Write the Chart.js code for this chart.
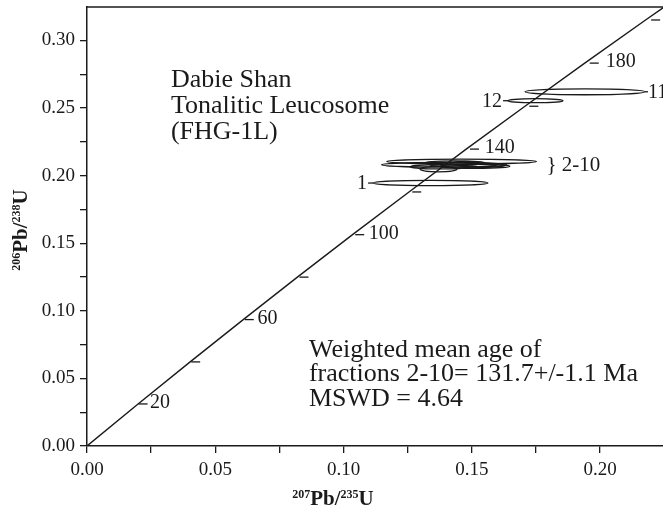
<!DOCTYPE html>
<html>
<head>
<meta charset="utf-8">
<script src="https://cdn.jsdelivr.net/npm/chart.js@4.4.1/dist/chart.umd.min.js"></script>
<style>
  html, body { margin: 0; padding: 0; background: #fff; }
</style>
</head>
<body>
<canvas id="concordia" width="663" height="510"></canvas>
<script>
// Concordia curve (age in Ma and its ratios)
const concAges = [0, 20, 40, 60, 80, 100, 120, 140, 160, 180, 200, 210];
const concX = [0, 0.0199, 0.0402, 0.0609, 0.0820, 0.1035, 0.1255, 0.1478, 0.1707, 0.1940, 0.2177, 0.2298];
const concY = [0, 0.0311, 0.0622, 0.0935, 0.1249, 0.1563, 0.1879, 0.2196, 0.2513, 0.2832, 0.3151, 0.3311];

// age marks along the curve
const ageMarks = [20, 40, 60, 80, 100, 120, 140, 160, 180, 200];
const ageLabels = ['20', '', '60', '', '100', '', '140', '', '180', ''];

// zircon fractions: error ellipse centres and half widths
const fracLabels = ['1', '', '', '', '', '', '', '', '', '', '11', '12'];
const ellX  = [0.1339, 0.1460, 0.1392, 0.1370, 0.1467, 0.1512, 0.1376, 0.1473, 0.1434, 0.1541, 0.1941, 0.1748];
const ellY  = [0.1945, 0.2104, 0.2080, 0.2048, 0.2080, 0.2069, 0.2065, 0.2091, 0.2094, 0.2076, 0.2620, 0.2554];
const ellRx = [0.0224, 0.0292, 0.0244, 0.0072, 0.0131, 0.0136, 0.0117, 0.0058, 0.0117, 0.0088, 0.0234, 0.0107];
const ellRy = [0.0019, 0.0018, 0.0018, 0.0020, 0.0016, 0.0015, 0.0016, 0.0014, 0.0015, 0.0015, 0.0022, 0.0015];

// axis ticks
const xTicks = [0, 0.025, 0.05, 0.075, 0.10, 0.125, 0.15, 0.175, 0.20];
const yTicks = [0, 0.025, 0.05, 0.075, 0.10, 0.125, 0.15, 0.175, 0.20, 0.225, 0.25, 0.275, 0.30];

const serif = '"Liberation Serif", "Times New Roman", serif';
const ink = '#1a1a1a';

function tickLabel(v) {
  const k = Math.round(v / 0.025);
  return k % 2 === 0 ? v.toFixed(2) : '';
}

function drawRich(ctx, parts, cx, cy) {
  let w = 0;
  parts.forEach(p => {
    ctx.font = p.sup ? 'bold 12px ' + serif : 'bold 21px ' + serif;
    p.w = ctx.measureText(p.t).width;
    w += p.w;
  });
  let x = cx - w / 2;
  ctx.textAlign = 'left';
  ctx.textBaseline = 'alphabetic';
  parts.forEach(p => {
    ctx.font = p.sup ? 'bold 12px ' + serif : 'bold 21px ' + serif;
    ctx.fillText(p.t, x, p.sup ? cy - 7 : cy);
    x += p.w;
  });
}

const decor = {
  id: 'decor',
  afterDatasetsDraw(chart) {
    const {ctx, chartArea: a, scales: {x, y}} = chart;
    ctx.save();
    ctx.strokeStyle = ink;
    ctx.fillStyle = ink;

    // frame top line
    ctx.lineWidth = 1.5;
    ctx.beginPath();
    ctx.moveTo(a.left, a.top);
    ctx.lineTo(a.right, a.top);
    ctx.stroke();

    // error ellipses
    ctx.save();
    ctx.beginPath();
    ctx.rect(a.left, a.top, a.right - a.left, a.bottom - a.top);
    ctx.clip();
    ctx.lineWidth = 1.3;
    for (let i = 0; i < ellX.length; i++) {
      const px = x.getPixelForValue(ellX[i]);
      const py = y.getPixelForValue(ellY[i]);
      const rx = x.getPixelForValue(ellX[i] + ellRx[i]) - px;
      const ry = py - y.getPixelForValue(ellY[i] + ellRy[i]);
      ctx.beginPath();
      ctx.ellipse(px, py, rx, ry, 0, 0, Math.PI * 2);
      ctx.stroke();
    }

    // age marks on the concordia
    ctx.lineWidth = 1.3;
    ctx.font = '20px ' + serif;
    ctx.textAlign = 'left';
    ctx.textBaseline = 'middle';
    ageMarks.forEach((age, i) => {
      const k = concAges.indexOf(age);
      const px = x.getPixelForValue(concX[k]);
      const py = y.getPixelForValue(concY[k]);
      const shift = (px - a.left) * 0.02;
      ctx.beginPath();
      ctx.moveTo(px + shift * 0.5, py);
      ctx.lineTo(px + shift * 0.5 + 9, py);
      ctx.stroke();
      if (ageLabels[i]) ctx.fillText(ageLabels[i], px + 11 + shift, py - 1);
    });

    // fraction labels
    const side = {'1': 'left', '12': 'left', '11': 'right'};
    fracLabels.forEach((lab, i) => {
      if (!lab) return;
      const py = y.getPixelForValue(ellY[i]);
      if (side[lab] === 'left') {
        const ex = x.getPixelForValue(ellX[i] - ellRx[i]);
        ctx.beginPath();
        ctx.moveTo(ex - 5, py);
        ctx.lineTo(ex, py);
        ctx.stroke();
        ctx.textAlign = 'right';
        ctx.fillText(lab, ex - 6, py + 1);
      } else {
        const ex = x.getPixelForValue(ellX[i] + ellRx[i]);
        ctx.beginPath();
        ctx.moveTo(ex, py);
        ctx.lineTo(ex + 3, py);
        ctx.stroke();
        ctx.textAlign = 'left';
        ctx.fillText(lab, ex + 3, py + 1);
      }
    });
    ctx.restore();

    // group bracket for fractions 2-10
    ctx.font = '21px ' + serif;
    ctx.textAlign = 'left';
    ctx.textBaseline = 'middle';
    ctx.fillText('} 2-10', x.getPixelForValue(0.1791), y.getPixelForValue(0.2072));

    // notes
    const notes = [
      ['Dabie Shan', 0.0327, 0.2707, 26],
      ['Tonalitic Leucosome', 0.0327, 0.2515, 26],
      ['(FHG-1L)', 0.0327, 0.2323, 26],
      ['Weighted mean age of', 0.0865, 0.0712, 26],
      ['fractions 2-10= 131.7+/-1.1 Ma', 0.0865, 0.0530, 26],
      ['MSWD = 4.64', 0.0865, 0.0347, 26]
    ];
    notes.forEach(n => {
      ctx.font = n[3] + 'px ' + serif;
      ctx.fillText(n[0], x.getPixelForValue(n[1]), y.getPixelForValue(n[2]));
    });

    // axis titles
    drawRich(ctx, [{t: '207', sup: true}, {t: 'Pb/'}, {t: '235', sup: true}, {t: 'U'}], a.left + 246, 505);
    ctx.save();
    ctx.translate(27, 230);
    ctx.rotate(-Math.PI / 2);
    drawRich(ctx, [{t: '206', sup: true}, {t: 'Pb/'}, {t: '238', sup: true}, {t: 'U'}], 0, 0);
    ctx.restore();

    ctx.restore();
  }
};

const ctx = document.getElementById('concordia').getContext('2d');

const axisBase = {
  type: 'linear',
  grid: { display: true, drawOnChartArea: false, drawTicks: true, tickLength: 7, color: ink, lineWidth: 1.3 },
  border: { display: true, color: ink, width: 1.5 },
  ticks: {
    autoSkip: false,
    maxRotation: 0,
    font: { family: serif, size: 19 },
    color: ink,
    callback: tickLabel
  }
};

const chart = new Chart(ctx, {
  type: 'scatter',
  data: {
    datasets: [{
      label: 'Concordia',
      data: concAges.map((a, i) => ({ x: concX[i], y: concY[i] })),
      showLine: true,
      borderColor: ink,
      borderWidth: 1.4,
      pointRadius: 0,
      tension: 0
    }]
  },
  options: {
    responsive: false,
    animation: false,
    devicePixelRatio: 1,
    layout: { padding: { top: 7, right: 0, left: 0, bottom: 0 } },
    plugins: { legend: { display: false }, tooltip: { enabled: false } },
    scales: {
      x: Object.assign({}, axisBase, {
        min: 0, max: 0.2245, position: 'bottom',
        ticks: Object.assign({}, axisBase.ticks, { padding: 6 }),
        afterBuildTicks: s => { s.ticks = xTicks.map(v => ({ value: v })); },
        afterFit: s => { s.height = 64; s.paddingRight = 0; s.paddingLeft = 0; }
      }),
      y: Object.assign({}, axisBase, {
        min: 0, max: 0.3247, position: 'left',
        ticks: Object.assign({}, axisBase.ticks, { padding: 5 }),
        afterBuildTicks: s => { s.ticks = yTicks.map(v => ({ value: v })); },
        afterFit: s => { s.width = 87; s.paddingTop = 0; s.paddingBottom = 0; }
      })
    }
  },
  plugins: [decor]
});
</script>
</body>
</html>
